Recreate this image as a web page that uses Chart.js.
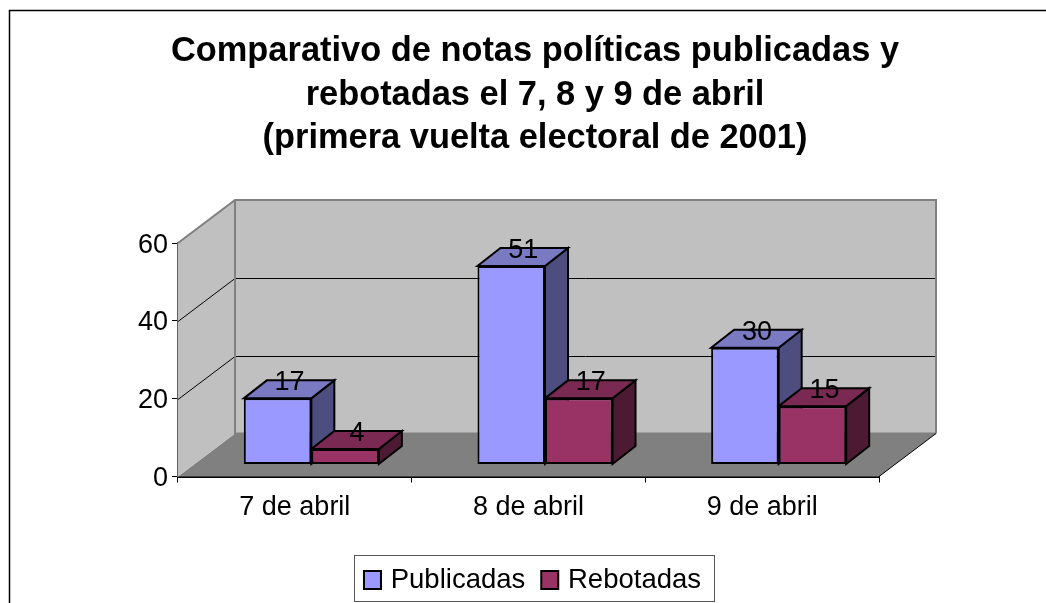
<!DOCTYPE html>
<html>
<head>
<meta charset="utf-8">
<style>html,body{margin:0;padding:0;background:#fff;overflow:hidden}canvas{display:block}</style>
<script src="https://cdn.jsdelivr.net/npm/chart.js@4"></script>
</head>
<body>
<canvas id="c" width="1046" height="603"></canvas>
<script>
const categories = ['7 de abril', '8 de abril', '9 de abril'];
const publicadas = [17, 51, 30];
const rebotadas = [4, 17, 15];
const titleLines = ['Comparativo de notas políticas publicadas y', 'rebotadas el 7, 8 y 9 de abril', '(primera vuelta electoral de 2001)'];
const FONT = '"Liberation Sans", Arial, sans-serif';
const WALL = {dx: 57, dy: -43};
const BAR = {sx: 16.5, sy: -12, dx: 23, dy: -18};
const faces = [{top: '#7a7ac2', side: '#4d4d80'}, {top: '#7a2952', side: '#4d1a33'}];

function poly(ctx, pts, fill, stroke, lw) {
  ctx.beginPath();
  pts.forEach((p, i) => i ? ctx.lineTo(p[0], p[1]) : ctx.moveTo(p[0], p[1]));
  ctx.closePath();
  if (fill) { ctx.fillStyle = fill; ctx.fill(); }
  if (stroke) { ctx.strokeStyle = stroke; ctx.lineWidth = lw; ctx.stroke(); }
}

const scene = {
  id: 'scene',
  afterLayout(chart) {
    const lg = chart.legend;
    lg.left -= 3; lg.right -= 3; lg.top -= 4; lg.bottom -= 4;
  },
  beforeDraw(chart) {
    const ctx = chart.ctx;
    ctx.save();
    ctx.strokeStyle = '#000'; ctx.lineWidth = 1.5;
    ctx.beginPath(); ctx.moveTo(9.5, 603); ctx.lineTo(9.5, 10.5); ctx.lineTo(1046, 10.5); ctx.stroke();
    ctx.fillStyle = '#fff';
    ctx.fillRect(354, 555, 360, 46);
    ctx.strokeStyle = '#555'; ctx.lineWidth = 1;
    ctx.strokeRect(354.5, 555.5, 360, 46);
    ctx.restore();
  },
  beforeDatasetsDraw(chart) {
    const ctx = chart.ctx, a = chart.chartArea, y = chart.scales.y;
    const L = a.left, R = a.right, T = a.top, B = a.bottom, dx = WALL.dx, dy = WALL.dy;
    ctx.save();
    poly(ctx, [[L, B], [L + dx, B + dy], [R + dx, B + dy], [R, B]], '#808080');
    poly(ctx, [[L, T], [L + dx, T + dy], [L + dx, B + dy], [L, B]], '#c0c0c0');
    poly(ctx, [[L + dx, T + dy], [R + dx, T + dy], [R + dx, B + dy], [L + dx, B + dy]], '#c0c0c0');
    ctx.strokeStyle = '#000'; ctx.lineWidth = 1;
    y.ticks.forEach(t => {
      if (t.value === 0 || t.value === y.max) return;
      const py = Math.round(y.getPixelForValue(t.value)) + 0.5;
      ctx.beginPath(); ctx.moveTo(L, py); ctx.lineTo(L + dx, py + dy); ctx.lineTo(R + dx, py + dy); ctx.stroke();
    });
    ctx.strokeStyle = '#808080'; ctx.lineWidth = 2;
    ctx.beginPath();
    ctx.moveTo(L, T); ctx.lineTo(L + dx, T + dy); ctx.lineTo(R + dx, T + dy); ctx.lineTo(R + dx, B + dy);
    ctx.moveTo(L + dx, T + dy); ctx.lineTo(L + dx, B + dy); ctx.lineTo(R + dx, B + dy);
    ctx.stroke();
    ctx.strokeStyle = '#000'; ctx.lineWidth = 1;
    ctx.beginPath(); ctx.moveTo(R, B); ctx.lineTo(R + dx, B + dy); ctx.stroke();

    chart.data.datasets.forEach((ds, di) => {
      chart.getDatasetMeta(di).data.forEach(el => {
        const l = el.x - el.width / 2 + BAR.sx, r = el.x + el.width / 2 + BAR.sx;
        const t = el.y + BAR.sy, b = el.base + BAR.sy, ox = BAR.dx, oy = BAR.dy;
        poly(ctx, [[r, t], [r + ox, t + oy], [r + ox, b + oy], [r, b]], faces[di].side, '#000', 2);
        poly(ctx, [[l, t], [l + ox, t + oy], [r + ox, t + oy], [r, t]], faces[di].top, '#000', 2);
      });
    });
    ctx.restore();
    ctx.save();
    ctx.translate(BAR.sx, BAR.sy);
  },
  afterDatasetsDraw(chart) {
    const ctx = chart.ctx;
    ctx.restore();
    ctx.save();
    ctx.font = '27px ' + FONT;
    ctx.fillStyle = '#000';
    ctx.textAlign = 'center';
    ctx.textBaseline = 'alphabetic';
    chart.data.datasets.forEach((ds, di) => {
      chart.getDatasetMeta(di).data.forEach((el, i) => {
        ctx.fillText(String(ds.data[i]), el.x + BAR.sx + 12, el.y + BAR.sy - 8);
      });
    });
    ctx.restore();
  },
  afterDraw(chart) {
    const ctx = chart.ctx;
    ctx.save();
    chart.legend.legendHitBoxes.forEach((h, i) => {
      const ds = chart.data.datasets[i];
      ctx.fillStyle = ds.backgroundColor; ctx.strokeStyle = '#000'; ctx.lineWidth = 2;
      const top = Math.round(h.top + h.height / 2 - 9);
      ctx.fillRect(h.left + 1, top, 17, 18);
      ctx.strokeRect(h.left + 1, top, 17, 18);
    });
    ctx.restore();
  }
};

new Chart(document.getElementById('c'), {
  type: 'bar',
  data: {
    labels: categories,
    datasets: [
      {label: 'Publicadas', data: publicadas, backgroundColor: '#9999ff', borderColor: '#000', borderWidth: 2, borderSkipped: false, clip: false},
      {label: 'Rebotadas', data: rebotadas, backgroundColor: '#993366', borderColor: '#000', borderWidth: 2, borderSkipped: false, clip: false}
    ]
  },
  options: {
    responsive: false,
    animation: false,
    events: [],
    layout: {padding: {left: 24, right: 0, top: 30, bottom: -5}},
    datasets: {bar: {categoryPercentage: 0.578, barPercentage: 1}},
    scales: {
      x: {
        grid: {display: true, drawOnChartArea: false, drawTicks: true, tickLength: 6, tickColor: '#000', offset: true},
        border: {color: '#000', width: 2},
        ticks: {color: '#000', font: {family: FONT, size: 27}, padding: 9, maxRotation: 0},
        afterFit(s) { s.height = 79; }
      },
      y: {
        min: 0, max: 60,
        grid: {display: true, drawOnChartArea: false, drawTicks: true, tickLength: 6, tickColor: '#000'},
        border: {color: '#606060', width: 2},
        ticks: {color: '#000', font: {family: FONT, size: 27}, stepSize: 20, padding: 4, labelOffset: 2},
        afterFit(s) { s.width = 154; }
      },
      spacer: {
        position: 'right', display: true, grid: {display: false}, border: {display: false},
        ticks: {display: false},
        afterFit(s) { s.width = 167; }
      }
    },
    plugins: {
      title: {
        display: true, text: titleLines, color: '#000',
        font: {family: FONT, size: 34.4, weight: 'bold', lineHeight: 1.265},
        padding: {top: 0, bottom: 82.5}
      },
      legend: {
        position: 'bottom',
        labels: {color: '#000', font: {family: FONT, size: 27.5}, boxWidth: 14, boxHeight: 14, padding: 15,
          generateLabels(chart) {
            return chart.data.datasets.map((d, i) => ({text: d.label, fillStyle: 'rgba(0,0,0,0)', strokeStyle: 'rgba(0,0,0,0)', lineWidth: 0, datasetIndex: i, fontColor: '#000'}));
          }}
      },
      tooltip: {enabled: false}
    }
  },
  plugins: [scene]
});
</script>
</body>
</html>
